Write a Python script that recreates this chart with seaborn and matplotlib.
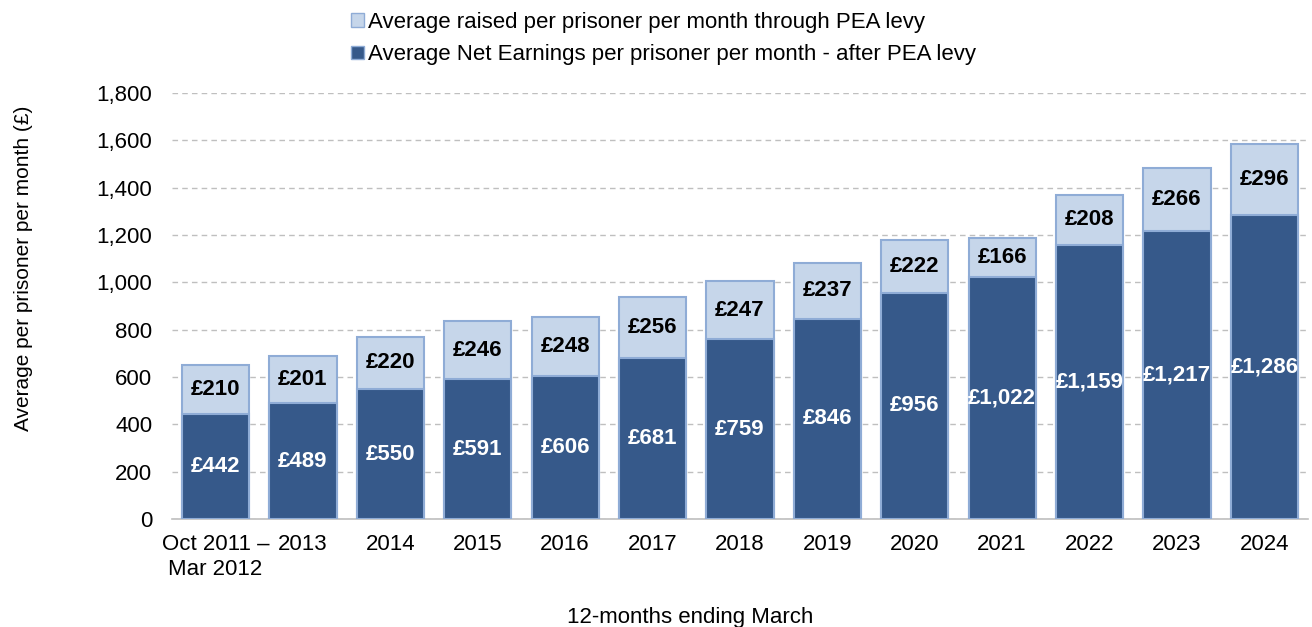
import pandas as pd
import matplotlib
matplotlib.use("Agg")
import matplotlib.pyplot as plt
import matplotlib.patches as mpatches
import seaborn as sns

# Datos
periods = ['Oct 2011 –\nMar 2012', '2013', '2014', '2015', '2016', '2017', '2018',
           '2019', '2020', '2021', '2022', '2023', '2024']
net_earnings = [442, 489, 550, 591, 606, 681, 759, 846, 956, 1022, 1159, 1217, 1286]
pea_levy = [210, 201, 220, 246, 248, 256, 247, 237, 222, 166, 208, 266, 296]

dark = '#36598A'
light = '#C6D6EA'
edge = '#8FACD6'

df = pd.DataFrame({'period': periods, 'net': net_earnings, 'levy': pea_levy})
df['total'] = df['net'] + df['levy']

sns.set_style('white')
plt.rcParams['font.family'] = ['Liberation Sans', 'DejaVu Sans']
plt.rcParams['text.color'] = 'black'
plt.rcParams['axes.labelcolor'] = 'black'
plt.rcParams['xtick.color'] = 'black'
plt.rcParams['ytick.color'] = 'black'

fig = plt.figure(figsize=(13.12, 6.27), dpi=100)
ax = fig.add_axes([0.131, 0.172, 0.866, 0.680])

sns.barplot(data=df, x='period', y='total', color=light, edgecolor=edge,
            linewidth=1.5, width=0.77, saturation=1, ax=ax, zorder=3)
sns.barplot(data=df, x='period', y='net', color=dark, edgecolor=edge,
            linewidth=1.5, width=0.77, saturation=1, ax=ax, zorder=4)

# etiquetas de valores
for i, row in df.iterrows():
    ax.text(i, row['net'] / 2, f"£{row['net']:,}", ha='center', va='center',
            color='white', fontsize=16, fontweight='bold', zorder=5)
    ax.text(i, row['net'] + row['levy'] / 2, f"£{row['levy']:,}", ha='center', va='center',
            color='black', fontsize=16, fontweight='bold', zorder=5)

ax.set_ylim(0, 1800)
ax.set_yticks(range(0, 1801, 200))
ax.set_yticklabels([f'{v:,}' for v in range(0, 1801, 200)], fontsize=16)
ax.yaxis.grid(True, linestyle=(0, (4, 3)), color='#BFBFBF', linewidth=1, zorder=0)
ax.set_axisbelow(True)
ax.set_xlim(-0.5, len(periods) - 0.5)

ax.tick_params(axis='x', which='major', length=0, labelsize=16, pad=11)
ax.tick_params(axis='y', length=0, pad=14)
ax.set_xticks([x - 0.5 for x in range(len(periods) + 1)], minor=True)
ax.tick_params(axis='x', which='minor', length=6, color='#BFBFBF', width=1.2, direction='out')

for s in ['top', 'right', 'left']:
    ax.spines[s].set_visible(False)
ax.spines['bottom'].set_color('#BFBFBF')
ax.spines['bottom'].set_linewidth(1.2)

ax.set_xlabel('12-months ending March', fontsize=16)
ax.xaxis.set_label_coords(0.456, -0.205)
ax.set_ylabel('Average per prisoner per month (£)', fontsize=15)
ax.yaxis.set_label_coords(-0.122, 0.589)

handles = [mpatches.Patch(facecolor=light, edgecolor=edge, linewidth=1,
                          label='Average raised per prisoner per month through PEA levy'),
           mpatches.Patch(facecolor=dark, edgecolor=edge, linewidth=1,
                          label='Average Net Earnings per prisoner per month - after PEA levy')]
fig.legend(handles=handles, loc='upper left', bbox_to_anchor=(0.261, 0.995),
           frameon=False, fontsize=16, handlelength=0.55, handleheight=0.55,
           handletextpad=0.2, labelspacing=0.5, borderaxespad=0)

fig.savefig('out.png', dpi=100)
